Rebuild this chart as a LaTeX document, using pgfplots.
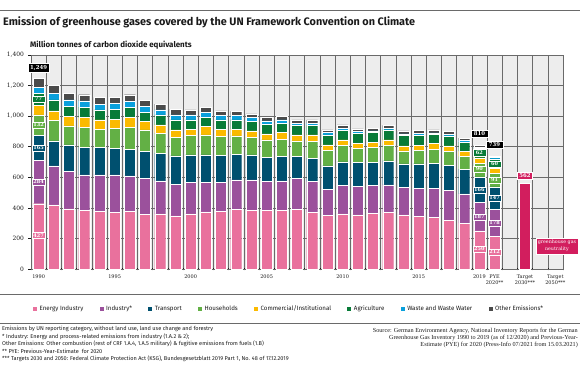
\documentclass[border=0pt]{standalone}
\usepackage{pgfplots}
\pgfplotsset{compat=1.18}
\usepackage{pgfplotstable}
\usepackage{fontspec}
\setmainfont{Fira Sans}
\newfontfamily\slab{DejaVu Serif}
\newfontfamily\srcfont{Liberation Serif}

\definecolor{cEI}{HTML}{E9719D}
\definecolor{cIND}{HTML}{9B519C}
\definecolor{cTR}{HTML}{00506F}
\definecolor{cHH}{HTML}{63B045}
\definecolor{cCOM}{HTML}{FBBA00}
\definecolor{cAGR}{HTML}{087B38}
\definecolor{cWST}{HTML}{0AA0DC}
\definecolor{cOTH}{HTML}{4B4B4B}
\definecolor{cTGT}{HTML}{D21E5E}
\definecolor{cBG}{HTML}{EDEDED}
\definecolor{cGRID}{HTML}{6A6A6A}
\definecolor{cTXT}{HTML}{1A1A1A}

\pgfplotstableread{
x ei ind tr hh com agr wst oth
0 427 284 165 132 64 77 40 60
1 419 256 163 134 63 72 44 50
2 393 247 172 125 61 65 44 44
3 382 234 181 129 65 68 41 40
4 376 240 179 120 61 65 38 43
5 371 245 174 131 58 66 37 40
6 376 233 175 144 63 66 39 44
7 358 236 175 141 55 61 37 40
8 360 216 182 131 54 66 32 38
9 347 208 185 120 50 66 33 37
10 360 208 179 126 42 61 33 32
11 373 195 179 131 54 61 33 31
12 376 192 174 125 48 61 28 31
13 391 192 168 120 44 61 28 27
14 386 197 164 115 42 61 26 24
15 382 190 159 114 39 64 21 22
16 386 190 160 113 44 61 22 22
17 391 203 142 102 40 61 15 22
18 371 201 153 109 44 61 15 22
19 349 173 153 100 37 66 15 17
20 360 186 155 107 37 63 13 22
21 354 185 158 93 33 66 11 17
22 365 181 151 98 35 63 11 17
23 371 179 157 101 37 65 11 18
24 354 179 155 85 33 67 11 20
25 343 185 160 87 35 65 11 20
26 336 192 164 92 36 61 10 19
27 317 196 164 92 36 66 10 19
28 299 192 162 83 33 61 10 16
29 250 187 166 90 34 62 9 12
30 212 178 147 91 33 60 9 9
}\data

\pgfplotstableread{
x tgt
32 562
}\target

\tikzset{
  vlab/.style={fill=#1, draw=white, line width=0.5bp, text=white, inner sep=1.2bp,
    minimum width=13bp, font=\slab\bfseries\fontsize{5}{5.5}\selectfont},
  tlab/.style={fill=black, draw=white, line width=0.5bp, text=white, inner sep=1.8bp,
    minimum width=17bp, font=\slab\bfseries\fontsize{5.4}{6}\selectfont},
}

\begin{document}
\begin{tikzpicture}
\useasboundingbox (0bp,0bp) rectangle (580bp,-366bp);
\draw[cGRID, line width=1bp] (0bp,-10bp) -- (580bp,-10bp);
\node[anchor=base west, inner sep=0, text=cTXT, font=\bfseries\fontsize{10.9}{12}\selectfont] at (3bp,-25bp) {Emission of greenhouse gases covered by the UN Framework Convention on Climate};
\node[anchor=base west, inner sep=0, text=cTXT, font=\bfseries\fontsize{8}{9}\selectfont] at (30bp,-47bp) {Million tonnes of carbon dioxide equivalents};

\begin{axis}[
  at={(31bp,-269bp)}, anchor=south west,
  width=532bp, height=214bp, scale only axis,
  xmin=-0.5, xmax=34.5, ymin=0, ymax=1400,
  ybar stacked, bar width=11bp,
  axis background/.style={fill=cBG},
  xtick={-0.5,0.5,...,34.5}, xticklabels={},
  ytick={0,200,...,1400},
  xmajorgrids, ymajorgrids,
  major grid style={cGRID, line width=0.6bp},
  axis line style={cGRID, line width=0.6bp},
  tick style={cTXT, line width=0.5bp},
  major tick length=2.5bp,
  xtick pos=bottom, ytick pos=left,
  xtick align=center, ytick align=outside,
  /pgf/number format/assume math mode=true,
  /pgf/number format/1000 sep={,},
  yticklabel style={font=\slab\fontsize{6}{7}\selectfont, text=cTXT, xshift=-1bp},
  xticklabel style={font=\slab\fontsize{5}{6}\selectfont, text=cTXT, align=center, anchor=north, yshift=-2bp},
  extra x ticks={0,5,10,15,20,25,29,30,32,34},
  extra x tick labels={1990,1995,2000,2005,2010,2015,2019,{PYE\\2020**},{Target\\2030***},{Target\\2050***}},
  extra x tick style={grid=none, major tick length=0pt},
  legend columns=-1,
  legend style={at={(-0.002,-0.187)}, anchor=west, draw=none, fill=none,
    font=\fontsize{6.2}{7}\selectfont, text=cTXT,
    /tikz/every even column/.append style={column sep=14.3bp},
    /tikz/every odd column/.append style={column sep=0.5bp}},
  legend image code/.code={\fill[#1, draw=none] (0bp,-2bp) rectangle (4bp,2bp);},
  every axis plot/.append style={draw=white, line width=0.35bp},
]
\addplot[fill=cEI] table[x=x,y=ei]{\data}; \addlegendentry{Energy Industry}
\addplot[fill=cIND] table[x=x,y=ind]{\data}; \addlegendentry{Industry*}
\addplot[fill=cTR] table[x=x,y=tr]{\data}; \addlegendentry{Transport}
\addplot[fill=cHH] table[x=x,y=hh]{\data}; \addlegendentry{Households}
\addplot[fill=cCOM] table[x=x,y=com]{\data}; \addlegendentry{Commercial/Institutional}
\addplot[fill=cAGR] table[x=x,y=agr]{\data}; \addlegendentry{Agriculture}
\addplot[fill=cWST] table[x=x,y=wst]{\data}; \addlegendentry{Waste and Waste Water}
\addplot[fill=cOTH] table[x=x,y=oth]{\data}; \addlegendentry{Other Emissions*}

\draw[black, dotted, line width=0.7bp] ([yshift=-1.5bp]axis cs:30.6,0) -- ([yshift=-1.5bp]axis cs:31.4,0);
\draw[black, dotted, line width=0.7bp] ([yshift=-1.5bp]axis cs:32.6,0) -- ([yshift=-1.5bp]axis cs:33.4,0);
\end{axis}

\begin{axis}[
  at={(31bp,-269bp)}, anchor=south west,
  width=532bp, height=214bp, scale only axis,
  xmin=-0.5, xmax=34.5, ymin=0, ymax=1400,
  ybar, bar width=11bp, hide axis, clip=false,
]
\addplot[fill=cTGT, draw=white, line width=0.35bp] table[x=x,y=tgt]{\target};

% value labels
\node[vlab=cEI] at (axis cs:0,218) {427};
\node[vlab=cIND] at (axis cs:0,570) {284};
\node[vlab=cTR] at (axis cs:0,792) {165};
\node[vlab=cHH] at (axis cs:0,943) {132};
\node[vlab=cAGR] at (axis cs:0,1113) {77};
\node[tlab] at (axis cs:0,1318) {1,249};

\node[vlab=cEI] at (axis cs:29,131) {250};
\node[vlab=cIND] at (axis cs:29,341) {187};
\node[vlab=cTR] at (axis cs:29,517) {166};
\node[vlab=cHH] at (axis cs:29,655) {90};
\node[vlab=cAGR] at (axis cs:29,760) {62};
\node[tlab] at (axis cs:29,884) {810};

\node[vlab=cEI] at (axis cs:30,111) {212};
\node[vlab=cIND] at (axis cs:30,301) {178};
\node[vlab=cTR] at (axis cs:30,465) {147};
\node[vlab=cHH] at (axis cs:30,583) {91};
\node[vlab=cAGR] at (axis cs:30,688) {60};
\node[tlab] at (axis cs:30,812) {739};

\node[vlab=cTGT, minimum width=15bp, font=\slab\bfseries\fontsize{5.4}{6}\selectfont, inner sep=1.8bp] at (axis cs:32,609) {562};
\node[fill=cTGT, draw=white, line width=0.4bp, text=white, align=center, inner sep=1.5bp,
  minimum width=42bp, minimum height=16bp,
  font=\slab\fontsize{4.8}{6.2}\selectfont] at (axis cs:34.1,152) {greenhouse gas\\neutrality};
\end{axis}

\draw[cGRID, line width=0.8bp] (0bp,-294bp) -- (580bp,-294bp);
\draw[cGRID, line width=0.8bp] (0bp,-323bp) -- (580bp,-323bp);

\node[anchor=north west, inner sep=0, align=left, text=cTXT, font=\fontsize{5.6}{7.6}\selectfont] at (2bp,-326bp) {Emissions by UN reporting category, without land use, land use change and forestry\\
* Industry: Energy and process-related emissions from industry (1.A.2 \& 2);\\
Other Emissions: Other combustion (rest of CRF 1.A.4, 1.A.5 military) \& fugitive emissions from fuels (1.B)\\
** PYE: Previous-Year-Estimate\ \ for 2020\\
*** Targets 2030 and 2050: Federal Climate Protection Act (KSG), Bundesgesetzblatt 2019 Part 1, No. 48 of 17.12.2019};

\node[anchor=north east, inner sep=0, align=right, text=cTXT, font=\srcfont\fontsize{6.2}{6.8}\selectfont] at (578bp,-328bp) {Source: German Environment Agency, National Inventory Reports for the German\\
Greenhouse Gas Inventory 1990 to 2019 (as of 12/2020) and Previous-Year-\\
Estimate (PYE) for 2020 (Press-Info 07/2021 from 15.03.2021)};
\end{tikzpicture}
\end{document}
